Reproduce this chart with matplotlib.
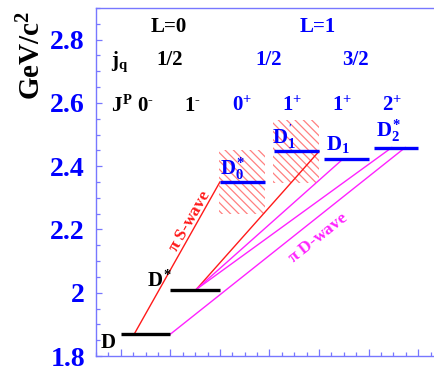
import matplotlib
matplotlib.use("Agg")
import matplotlib.pyplot as plt
from matplotlib.patches import Rectangle
from matplotlib.ticker import MultipleLocator, FuncFormatter

plt.rcParams['font.family'] = ['Liberation Serif', 'DejaVu Serif']
plt.rcParams['font.weight'] = 'bold'
plt.rcParams['mathtext.fontset'] = 'custom'
plt.rcParams['mathtext.rm'] = 'Liberation Serif:bold'
plt.rcParams['mathtext.it'] = 'Liberation Serif:bold'
plt.rcParams['mathtext.bf'] = 'Liberation Serif:bold'
plt.rcParams['hatch.linewidth'] = 0.9

# ---- data ----
state_labels = [r'$D$', r'$D^{*}$', r'$D_0^{*}$', r"$D_1^{'}$", r'$D_1$', r'$D_2^{*}$']
masses = [1.869, 2.010, 2.350, 2.447, 2.422, 2.459]          # GeV/c^2
mass_widths = [0.0, 0.0, 0.10, 0.10, 0.0, 0.0]               # hatched band half-height
state_columns = [1.0, 2.0, 3.0, 4.1, 5.1, 6.1]               # left edge of level bar
state_lengths = [1.0, 1.0, 0.9, 0.9, 0.9, 0.9]
state_colors = ['black', 'black', 'blue', 'blue', 'blue', 'blue']

# transitions: (from, to, attach fraction on 'from' bar, on 'to' bar, kind)
transitions = [
    (0, 2, 0.27, 0.0, 'S'),
    (1, 3, 0.52, 1.0, 'S'),
    (1, 4, 0.52, 0.42, 'D'),
    (1, 5, 0.52, 0.41, 'D'),
    (0, 5, 1.0, 0.71, 'D'),
]

L_labels = ['L=0', 'L=1']
jq_labels = ['1/2', '1/2', '3/2']
JP_labels = [r'$0^{\text{-}}$', r'$1^{\text{-}}$', r'$0^{+}$', r'$1^{+}$', r'$1^{+}$', r'$2^{+}$']

# ---- figure ----
fig = plt.figure(figsize=(4.34, 3.67), dpi=100)
ax = fig.add_axes([96/434, 11/367, 337/434, 348/367])
ax.set_xlim(0.5, 7.3)
ax.set_ylim(1.8, 2.9)

spine_col = '#7777ff'
for s in ['left', 'bottom', 'top']:
    ax.spines[s].set_color(spine_col)
    ax.spines[s].set_linewidth(1.0)
ax.spines['right'].set_visible(False)

ax.yaxis.set_major_locator(MultipleLocator(0.2))
ax.yaxis.set_minor_locator(MultipleLocator(0.05))
ax.yaxis.set_major_formatter(FuncFormatter(lambda v, p: ('%g' % round(v, 2))))
ax.xaxis.set_major_locator(MultipleLocator(1.0))
ax.xaxis.set_minor_locator(MultipleLocator(0.25))
ax.tick_params(axis='y', which='major', direction='in', length=4.5, width=0.9,
               color=spine_col, labelsize=20, labelcolor='blue', pad=8)
ax.tick_params(axis='y', which='minor', direction='in', length=3, width=0.9, color=spine_col)
ax.tick_params(axis='x', which='major', direction='in', length=5, width=0.9,
               color=spine_col, labelbottom=False)
ax.tick_params(axis='x', which='minor', direction='in', length=3, width=0.9, color=spine_col)
for t in ax.get_yticklabels():
    t.set_fontweight('bold')

# hatched mass bands
for m, w, x0, ln in zip(masses, mass_widths, state_columns, state_lengths):
    if w > 0:
        ax.add_patch(Rectangle((x0 - 0.02, m - w), ln + 0.02, 2 * w, facecolor='none',
                               edgecolor='#ff8080', linewidth=0, hatch='\\\\\\\\', zorder=1))

# transitions
for a, b, fa, fb, kind in transitions:
    xa = state_columns[a] + fa * state_lengths[a]
    xb = state_columns[b] + fb * state_lengths[b]
    col = '#ff1a1a' if kind == 'S' else '#ff22ff'
    ax.plot([xa, xb], [masses[a], masses[b]], color=col, lw=1.0, zorder=2)

# level bars
for m, x0, ln, c in zip(masses, state_columns, state_lengths, state_colors):
    ax.plot([x0, x0 + ln], [m, m], color=c, lw=2.4, solid_capstyle='butt', zorder=3)

# state labels
label_pos = [(0.58, 1.825), (1.53, 2.020), (3.01, 2.372), (4.06, 2.472), (5.15, 2.451), (6.15, 2.493)]
for lab, (lx, ly), c in zip(state_labels, label_pos, state_colors):
    ax.text(lx, ly, lab, color=c, fontsize=15, ha='left', va='baseline', zorder=4)

# header rows
ax.text(1.97, 2.824, L_labels[0], color='black', fontsize=15, ha='center', va='baseline')
ax.text(4.98, 2.824, L_labels[1], color='blue', fontsize=15, ha='center', va='baseline')

ax.text(0.80, 2.718, r'$j_q$', color='black', fontsize=15, ha='left', va='baseline')
jq_x = [1.99, 3.99, 5.74]
jq_c = ['black', 'blue', 'blue']
for lab, x, c in zip(jq_labels, jq_x, jq_c):
    ax.text(x, 2.72, lab, color=c, fontsize=15, ha='center', va='baseline')

ax.text(0.80, 2.573, r'$J^{P}$', color='black', fontsize=15, ha='left', va='baseline')
jp_x = [1.50, 2.45, 3.45, 4.45, 5.46, 6.47]
for lab, x, c in zip(JP_labels, jp_x, state_colors):
    ax.text(x, 2.573, lab, color=c, fontsize=15, ha='center', va='baseline')

# wave labels
ax.text(2.40, 2.227, r'$\pi$ S-wave', color='#ff1a1a', fontsize=12.5, rotation=60,
        ha='center', va='center', rotation_mode='anchor')
ax.text(4.98, 2.172, r'$\pi$ D-wave', color='#ff22ff', fontsize=12.5, rotation=38.4,
        ha='center', va='center', rotation_mode='anchor')

fig.text(32/434, 1 - 55/367, r'GeV/c$^{2}$', rotation=90, fontsize=21, color='black',
         ha='center', va='center', fontweight='bold')

fig.savefig('out.png', dpi=100)
